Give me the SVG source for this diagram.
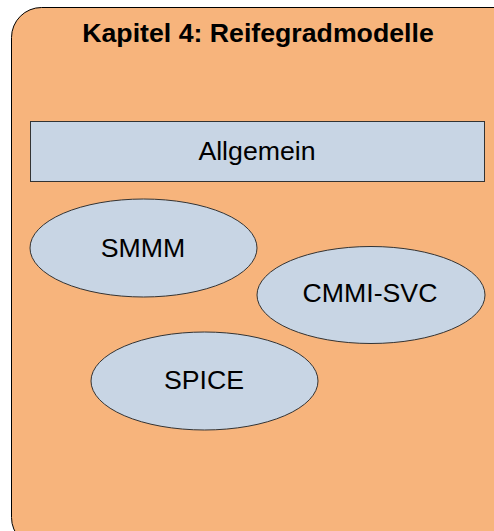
<svg xmlns="http://www.w3.org/2000/svg" width="494" height="531" viewBox="0 0 494 531">
<style>
.box{fill:#F7B47C;stroke:#000;stroke-width:1}
.node{fill:#C8D5E4;stroke:#333;stroke-width:1}
.t{font-family:"Liberation Sans",Arial,sans-serif;font-size:26.7px;fill:#000;text-anchor:middle}
.b{font-weight:bold}
</style>
<rect width="494" height="531" fill="#fff"/>
<g id="chapter">
<rect class="box" x="11.5" y="7.5" width="520" height="540" rx="30" ry="30"/>
<text class="t b" x="258" y="42">Kapitel 4: Reifegradmodelle</text>
</g>
<g id="allgemein">
<rect class="node" x="30.5" y="121.5" width="454" height="60"/>
<text class="t" x="257" y="160">Allgemein</text>
</g>
<g id="smmm">
<ellipse class="node" cx="143.5" cy="248" rx="113.5" ry="49"/>
<text class="t" x="143" y="257">SMMM</text>
</g>
<g id="cmmi">
<ellipse class="node" cx="371" cy="295" rx="114" ry="48.5"/>
<text class="t" x="370" y="302">CMMI-SVC</text>
</g>
<g id="spice">
<ellipse class="node" cx="204.5" cy="381" rx="113.5" ry="49"/>
<text class="t" x="204" y="389">SPICE</text>
</g>
<g id="connectors"/>
</svg>
